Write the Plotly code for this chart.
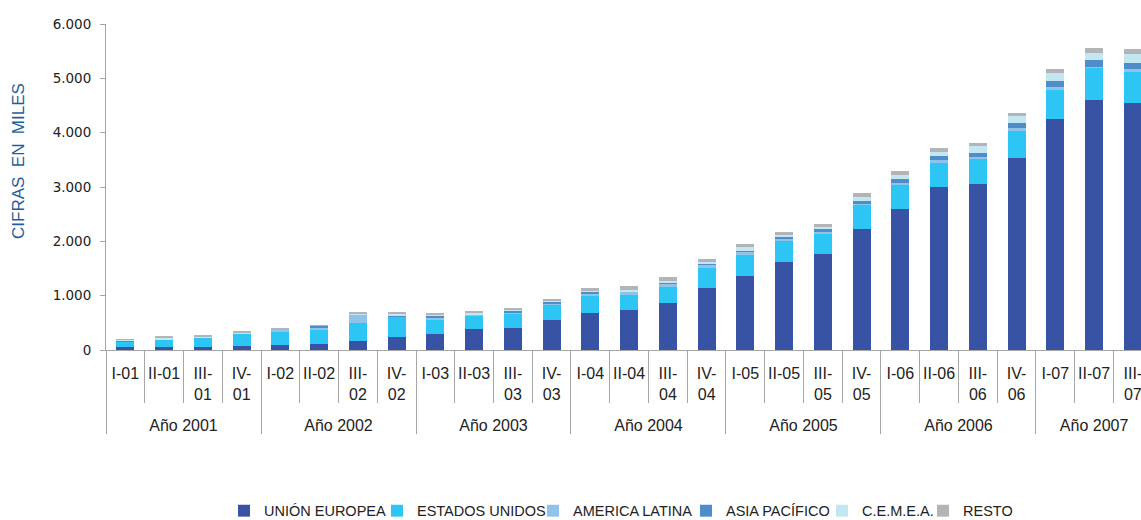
import plotly.graph_objects as go

NB = "\u00a0"
years = ["Año 2001"] * 4 + ["Año 2002"] * 4 + ["Año 2003"] * 4 + ["Año 2004"] * 4 + \
        ["Año 2005"] * 4 + ["Año 2006"] * 4 + ["Año 2007"] * 3
quarters = ["I-01", "II-01", "III-<br>01", "IV-<br>01",
            "I-02", "II-02", "III-<br>02", "IV-<br>02",
            "I-03", "II-03", "III-<br>03", "IV-<br>03",
            "I-04", "II-04", "III-<br>04", "IV-<br>04",
            "I-05", "II-05", "III-<br>05", "IV-<br>05",
            "I-06", "II-06", "III-<br>06", "IV-<br>06",
            "I-07", "II-07", "III-<br>07"]

union_europea = [50, 50, 50, 80, 98, 117, 172, 245, 300, 393, 411, 558, 687, 742, 871, 1147,
                 1368, 1626, 1773, 2233, 2601, 3006, 3061, 3540, 4258, 4607, 4552]
estados_unidos = [98, 135, 175, 215, 240, 258, 331, 368, 258, 240, 258, 276, 313, 276, 294, 368,
                  387, 387, 368, 442, 442, 442, 460, 497, 534, 589, 571]
america_latina = [10, 10, 5, 5, 37, 37, 153, 10, 43, 18, 25, 30, 37, 55, 55, 55,
                  55, 37, 37, 18, 37, 55, 37, 55, 55, 18, 55]
asia_pacifico = [8, 5, 5, 5, 5, 37, 5, 18, 25, 10, 25, 20, 31, 10, 15, 15,
                 18, 37, 55, 55, 74, 74, 74, 92, 110, 129, 110]
cemea = [30, 35, 5, 5, 5, 5, 5, 18, 10, 18, 10, 18, 10, 18, 37, 37,
         74, 37, 37, 74, 74, 74, 129, 129, 147, 129, 166]
resto = [5, 5, 37, 43, 5, 5, 31, 37, 43, 43, 43, 43, 61, 74, 74, 55,
         55, 55, 55, 74, 74, 74, 55, 55, 74, 92, 92]

series = [
    ("UNIÓN EUROPEA", union_europea, "#3953A4"),
    ("ESTADOS UNIDOS", estados_unidos, "#2DC5F4"),
    ("AMERICA LATINA", america_latina, "#8FC3EA"),
    ("ASIA PACÍFICO", asia_pacifico, "#4F8CCA"),
    ("C.E.M.E.A.", cemea, "#C3E7F1"),
    ("RESTO", resto, "#B2B4B7"),
]

# left pixel where each legend entry's text starts in the reference
legend_text_px = [259, 412, 568, 721, 857, 958]

ML, MR, MT, MB = 106, 0, 24, 170
W, H = 1141, 520
PW = W - ML - MR

# an extra blank line under every quarter label leaves room above the year row
quarter_labels = [q + "<br>" + NB if "<br>" in q else q + "<br>" + NB + "<br>" + NB for q in quarters]

fig = go.Figure()
legend_layout = {}
for i, (name, vals, col) in enumerate(series):
    lname = "legend" if i == 0 else f"legend{i + 1}"
    fig.add_trace(go.Bar(x=[years, quarter_labels], y=vals, name=name, legend=lname,
                         marker=dict(color=col, line=dict(width=0))))
    legend_layout[lname] = dict(
        orientation="h", x=(legend_text_px[i] + 5 - 40 - ML) / PW, xanchor="left",
        y=-0.493, yanchor="middle", bgcolor="rgba(0,0,0,0)",
        font=dict(family="Liberation Sans, Arial", size=14.5, color="#222222"),
    )

AXIS_GRAY = "#A6A6A6"
fig.update_layout(
    width=W, height=H,
    margin=dict(l=ML, r=MR, t=MT, b=MB, autoexpand=False),
    barmode="stack", bargap=0.54,
    plot_bgcolor="white", paper_bgcolor="white",
    separators=",.",
    font=dict(family="Liberation Sans, Arial, sans-serif", size=16, color="#222222"),
    showlegend=True,
    xaxis=dict(type="multicategory", range=[-0.5, 26.21], automargin=False,
               showline=True, linecolor=AXIS_GRAY, linewidth=1,
               ticks="outside", tickson="boundaries", ticklen=52, tickcolor=AXIS_GRAY,
               tickangle=0, ticklabelstandoff=9,
               showdividers=True, dividercolor=AXIS_GRAY, dividerwidth=1,
               tickfont=dict(size=16, color="#222222"),
               showgrid=False, zeroline=False),
    yaxis=dict(range=[0, 6000], dtick=1000, tickformat=",d", automargin=False,
               showline=True, linecolor=AXIS_GRAY, linewidth=1,
               ticks="outside", ticklen=5, tickcolor=AXIS_GRAY, ticklabelstandoff=6,
               tickfont=dict(family="DejaVu Sans, Verdana", size=13.5, color="#222222"),
               showgrid=False, zeroline=False),
    **legend_layout,
)

fig.add_annotation(text="CIFRAS  EN  MILES", textangle=-90, xref="paper", yref="paper",
                   x=-0.084, y=0.58, xanchor="center", yanchor="middle", showarrow=False,
                   font=dict(family="Liberation Sans, Arial", size=17, color="#1F5E9C"))

fig.write_html("out.html", config={"displayModeBar": False},
               post_script="document.body.style.margin='0';document.body.style.overflow='hidden';")
